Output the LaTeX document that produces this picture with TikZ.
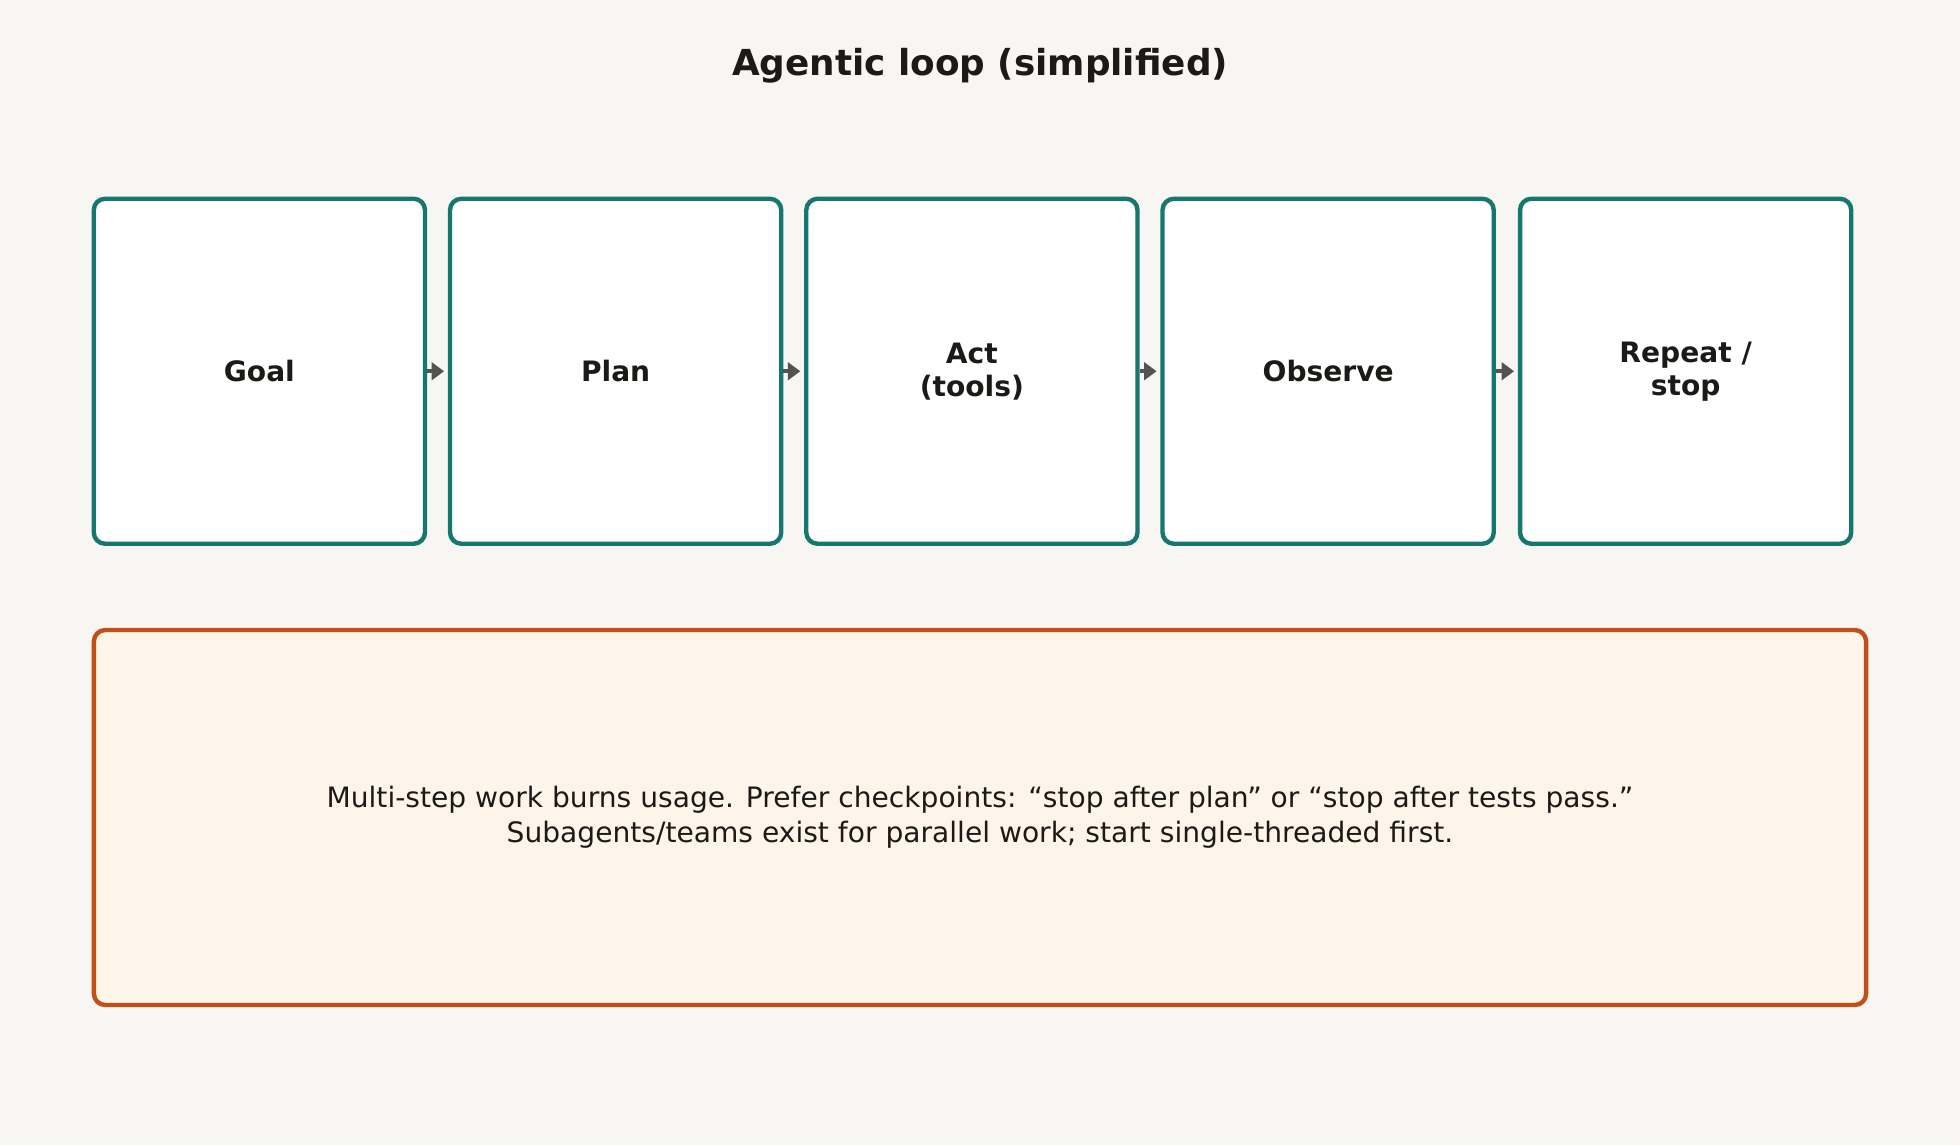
\documentclass[tikz,border=0pt]{standalone}
\usepackage{fontspec}
\setmainfont{DejaVu Sans}
\usetikzlibrary{arrows.meta}
\definecolor{bgcol}{HTML}{F8F6F2}
\definecolor{tealcol}{HTML}{16776E}
\definecolor{orangecol}{HTML}{C24E1A}
\definecolor{notefill}{HTML}{FDF5EA}
\definecolor{inkcol}{HTML}{1C1A17}
\definecolor{arrowcol}{HTML}{555352}
\tikzset{
    stage/.style = {rectangle, rounded corners=0.18cm, draw=tealcol, line width=2pt, fill=white,
                   minimum width=5.3cm, minimum height=5.52cm, align=center,
                   font=\fontsize{12.8}{15}\selectfont\bfseries, text=inkcol},
    note/.style = {rectangle, rounded corners=0.18cm, draw=orangecol, line width=2pt, fill=notefill,
                   minimum width=28.36cm, minimum height=6cm, align=center,
                   font=\fontsize{12.8}{16}\selectfont, text=inkcol},
    flow/.style = {-{Triangle[length=0.2cm,width=0.28cm]}, draw=arrowcol, line width=2pt, shorten >=0.06cm}
}
\begin{document}
\begin{tikzpicture}[x=0.02cm, y=-0.02cm]

        \fill[bgcol] (0,0) rectangle (1568,916);
        \useasboundingbox (0,0) rectangle (1568,916);

        \node (title) [font=\fontsize{16.3}{19}\selectfont\bfseries, text=inkcol] at (784,53) {Agentic loop (simplified)};

        \node (goal) [stage] at (207.5,297) {Goal};
        \node (plan) [stage] at (492.5,297) {Plan};
        \node (act) [stage] at (777.5,297) {Act\\(tools)};
        \node (observe) [stage] at (1062.5,297) {Observe};
        \node (repeat) [stage] at (1348.5,297) {Repeat /\\stop};

        \draw[flow] (goal) -- (plan);
        \draw[flow] (plan) -- (act);
        \draw[flow] (act) -- (observe);
        \draw[flow] (observe) -- (repeat);

        \node (tip) [note] at (784,654) {Multi-step work burns usage. Prefer checkpoints: “stop after plan” or “stop after tests pass.”\\Subagents/teams exist for parallel work; start single-threaded first.};

    \end{tikzpicture}
\end{document}
